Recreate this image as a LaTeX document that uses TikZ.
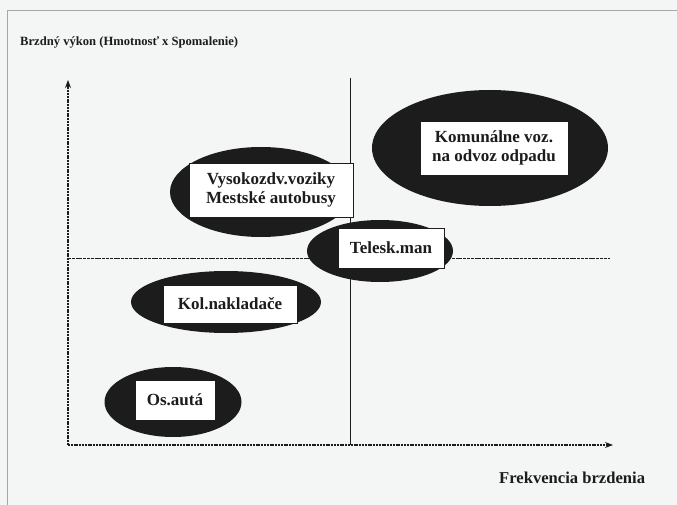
\documentclass[tikz,border=0pt]{standalone}
\usepackage{fontspec}
\setmainfont{Liberation Serif}
\usetikzlibrary{arrows.meta,shapes.geometric}
\definecolor{paper}{HTML}{F4F6F6}
\definecolor{ink}{HTML}{1C1C1C}
\tikzset{
  blob/.style={ellipse,fill=ink,inner sep=0pt},
  tag/.style={draw=ink,fill=white,line width=0.8pt,align=center,text=ink,
    font=\bfseries\fontsize{17}{19}\selectfont,inner sep=1pt},
  axis/.style={draw=ink,line width=1.2pt,dash pattern=on 2pt off 0.8pt,
    -{Stealth[length=8pt,width=6pt]}},
  divide/.style={draw=ink,line width=0.9pt},
  caption/.style={text=ink,font=\bfseries\fontsize{#1}{#1}\selectfont,inner sep=0pt,anchor=west},
}
\begin{document}
\begin{tikzpicture}[x=1pt,y=-1pt]
\fill[paper] (0,0) rectangle (677,505);
\useasboundingbox (0,0) rectangle (677,505);
\draw[gray!70,line width=0.8pt] (7,505) -- (7,10) -- (677,10);
% axes and quadrants
\coordinate (o) at (68,445);
\coordinate (ytip) at (68,80);
\coordinate (xtip) at (613,445);
\coordinate (vtop) at (350,78);
\coordinate (hleft) at (68,258);
\coordinate (hright) at (610,258);
\draw[divide] (vtop) -- (vtop |- o);
\draw[divide,dash pattern=on 3pt off 0.8pt] (hleft) -- (hright);
\draw[axis] (o) -- (ytip);
\draw[axis] (o) -- (xtip);
\node[caption=12.6] (ylab) at (20,42) {Brzdný výkon (Hmotnosť x Spomalenie)};
\node[caption=16.6] (xlab) at (499,478) {Frekvencia brzdenia};
% groups
\node[blob,minimum width=236pt,minimum height=116pt] (kom) at (490,148) {};
\node[tag,minimum width=148pt,minimum height=54pt] (komt) at (494,148) {Komunálne voz.\\na odvoz odpadu};
\node[blob,minimum width=182pt,minimum height=90pt] (vys) at (261,192) {};
\node[tag,minimum width=164pt,minimum height=54pt] (vyst) at (271,190) {Vysokozdv.voziky\\Mestské autobusy};
\node[blob,minimum width=146pt,minimum height=62pt] (tel) at (380,251) {};
\node[tag,minimum width=106pt,minimum height=40pt] (telt) at (391,248) {Telesk.man};
\node[blob,minimum width=190pt,minimum height=62pt] (kol) at (226,302) {};
\node[tag,minimum width=134pt,minimum height=38pt] (kolt) at (230,304) {Kol.nakladače};
\node[blob,minimum width=137pt,minimum height=70pt] (os) at (173,402) {};
\node[tag,minimum width=80pt,minimum height=40pt] (ost) at (175,400) {Os.autá};
\end{tikzpicture}
\end{document}
